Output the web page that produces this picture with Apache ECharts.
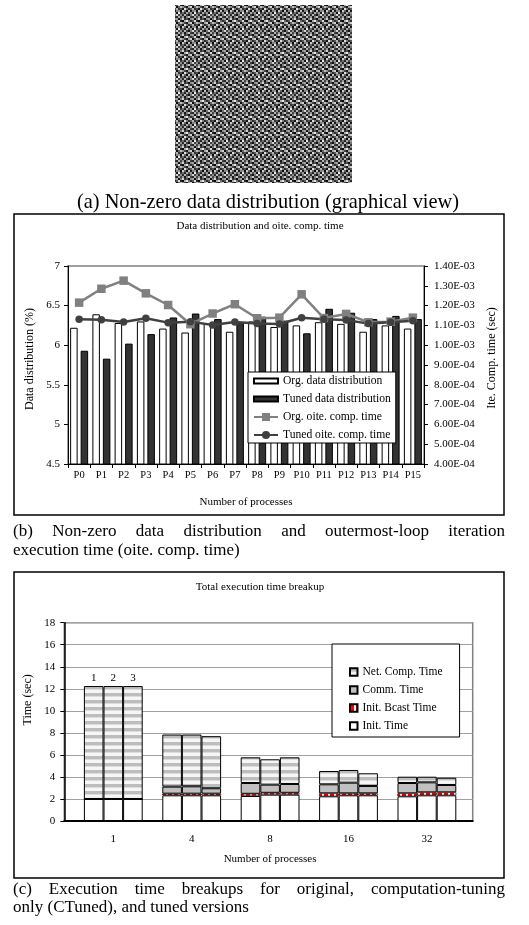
<!DOCTYPE html>
<html><head><meta charset="utf-8">
<script src="https://cdn.jsdelivr.net/npm/echarts@6/dist/echarts.min.js"></script>
<style>
html,body{margin:0;padding:0;background:#fff;}
#wrap{position:relative;width:529px;height:925px;overflow:hidden;}
#chart{position:absolute;left:0;top:0;width:529px;height:925px;}
.cap{position:absolute;font-family:'Liberation Serif','Times New Roman',serif;color:#000;white-space:nowrap;}
.just{white-space:normal;text-align:justify;text-align-last:justify;}
</style></head><body>
<div id="wrap">
<div id="chart"></div>
<div class="cap" style="left:0;width:536px;top:190px;font-size:20.4px;line-height:22px;text-align:center;">(a) Non-zero data distribution (graphical view)</div>
<div class="cap just" style="left:13px;width:492px;top:521px;font-size:17px;line-height:19px;">(b) Non-zero data distribution and outermost-loop iteration</div>
<div class="cap" style="left:13px;top:540px;font-size:17px;line-height:19px;">execution time (oite. comp. time)</div>
<div class="cap just" style="left:13px;width:492px;top:879.5px;font-size:17px;line-height:18.5px;">(c) Execution time breakups for original, computation-tuning</div>
<div class="cap" style="left:13px;top:898px;font-size:17px;line-height:18.5px;">only (CTuned), and tuned versions</div>
</div>
<script>
// ---------- data: chart (b) ----------
const procNames = ['P0','P1','P2','P3','P4','P5','P6','P7','P8','P9','P10','P11','P12','P13','P14','P15'];
const orgDist   = [6.22,6.39,6.28,6.30,6.21,6.16,6.27,6.17,6.30,6.23,6.25,6.29,6.27,6.17,6.25,6.21];
const tunedDist = [5.93,5.83,6.02,6.14,6.35,6.40,6.33,6.29,6.36,6.31,6.15,6.46,6.41,6.33,6.37,6.33];
const orgTime   = [1.215e-3,1.285e-3,1.326e-3,1.262e-3,1.203e-3,1.106e-3,1.160e-3,1.207e-3,1.136e-3,1.139e-3,1.257e-3,1.137e-3,1.158e-3,1.116e-3,1.119e-3,1.139e-3];
const tunedTime = [1.131e-3,1.129e-3,1.117e-3,1.136e-3,1.114e-3,1.119e-3,1.102e-3,1.117e-3,1.109e-3,1.107e-3,1.139e-3,1.131e-3,1.127e-3,1.109e-3,1.116e-3,1.124e-3];
const distTicks = {min:4.5, max:7, step:0.5};
const timeTicks = {min:4e-4, max:1.4e-3, step:1e-4};

// ---------- data: chart (c) ----------
const procCounts = ['1','4','8','16','32'];
const versionLabels = ['1','2','3'];
const initTime  = [[2.00,2.33,2.27,2.24,2.24],[2.00,2.33,2.39,2.33,2.33],[2.00,2.33,2.39,2.33,2.33]];
const bcastTime = [[0,0.15,0.20,0.27,0.27],[0,0.15,0.17,0.18,0.27],[0,0.15,0.17,0.18,0.27]];
const commTime  = [[0,0.64,0.98,0.82,0.94],[0,0.67,0.74,0.97,0.91],[0,0.49,0.80,0.67,0.67]];
const netTime   = [[10.25,4.73,2.33,1.21,0.57],[10.25,4.70,2.30,1.15,0.51],[10.25,4.73,2.42,1.15,0.66]];
const timeAxis  = {min:0, max:18, step:2};

// texture tile for the graphical view (a) - decorative grain only
const grainTile = [
 [ 40,180, 70,150, 25,130,200, 60],
 [160, 15,120,210, 50, 80, 10,140],
 [ 90,220, 35,  8,170,230,110, 45],
 [ 12,100,190,140, 70, 25,160,210],
 [180, 50, 80, 20,220,120, 40, 90],
 [130,150, 12,200,100,  8,190, 25],
 [ 20,230, 60,110, 35,170, 80,150],
 [210, 70,140, 40,180, 60, 20,120]];

const FONT = "'Liberation Serif','Times New Roman',serif";

function makePattern(w, h, draw){
  const c = document.createElement('canvas'); c.width = w; c.height = h;
  draw(c.getContext('2d'));
  return {image: c, repeat: 'repeat'};
}
const grainPattern = makePattern(16,16,ctx=>{
  grainTile.forEach((row,r)=>row.forEach((g,cI)=>{ctx.fillStyle='rgb('+g+','+g+','+g+')'; ctx.fillRect(cI*2,r*2,2,2);}));
});
const netPattern = makePattern(2,7,ctx=>{
  ctx.fillStyle='#f6f6f6'; ctx.fillRect(0,0,2,7);
  ctx.fillStyle='#bdbdbd'; ctx.fillRect(0,0,2,3);
  ctx.fillStyle='#dcdcdc'; ctx.fillRect(0,3,2,1);
});
const bcastPattern = makePattern(6,2,ctx=>{
  ctx.fillStyle='#ffffff'; ctx.fillRect(0,0,6,2);
  ctx.fillStyle='#ff0000'; ctx.fillRect(0,0,4,2);
});

function sci(v){
  const s = Number(v).toExponential(2).toUpperCase();
  const m = s.match(/^(-?[\d.]+)E([+-])(\d+)$/);
  if(!m) return s;
  return m[1]+'E'+m[2]+(m[3].length<2?'0'+m[3]:m[3]);
}

const barIcon = 'path://M0,0L0,0M0,2.5L24,2.5L24,7.5L0,7.5ZM24,10L24,10';
const axisBlack = {show:true, lineStyle:{color:'#000', width:1}};
const tickBlack = {show:true, length:4, lineStyle:{color:'#000', width:1}};
const lbl = (size, margin, extra) => Object.assign({fontSize:size, margin:margin, color:'#000', fontFamily:FONT}, extra||{});

const seriesC = [];
for(let k=0;k<3;k++){
  const common = {type:'bar', xAxisIndex:2, yAxisIndex:3, stack:'v'+k, barWidth:19.6, barGap:'0%', barCategoryGap:'25%'};
  seriesC.push(Object.assign({name:'Init. Time', data:initTime[k], itemStyle:{color:'#ffffff', borderColor:'#000', borderWidth:1}}, common));
  seriesC.push(Object.assign({name:'Init. Bcast Time', data:bcastTime[k], itemStyle:{color:bcastPattern, borderColor:'#000', borderWidth:0.6}}, common));
  seriesC.push(Object.assign({name:'Comm. Time', data:commTime[k], itemStyle:{color:'#c0c0c0', borderColor:'#000', borderWidth:1}}, common));
  seriesC.push(Object.assign({name:'Net. Comp. Time',
    data:netTime[k].map((v,i)=> i===0 ? {value:v, label:{show:true, position:'top', distance:2, formatter:versionLabels[k], fontSize:11, fontFamily:FONT, color:'#000'}} : v),
    itemStyle:{color:netPattern, borderColor:'#000', borderWidth:1}}, common));
}

const option = {
  animation:false,
  backgroundColor:'#fff',
  textStyle:{fontFamily:FONT, color:'#000'},
  title:[
    {text:'Data distribution and oite. comp. time', left:260, top:221, textAlign:'center', padding:0,
     textStyle:{fontSize:11, fontWeight:'normal', fontFamily:FONT, color:'#000'}},
    {text:'Total execution time breakup', left:260, top:582, textAlign:'center', padding:0,
     textStyle:{fontSize:11, fontWeight:'normal', fontFamily:FONT, color:'#000'}}
  ],
  graphic:[
    {type:'rect', shape:{x:175, y:5, width:177, height:178}, style:{fill:grainPattern}},
    {type:'rect', shape:{x:14, y:214, width:490, height:301}, style:{fill:'none', stroke:'#000', lineWidth:1.5}, z:100},
    {type:'rect', shape:{x:14, y:572, width:490, height:306}, style:{fill:'none', stroke:'#000', lineWidth:1.5}, z:100}
  ],
  legend:[
    {orient:'vertical', left:248, top:372, itemWidth:24, itemHeight:10, itemGap:6, padding:[3,5,2,5],
     borderColor:'#000', borderWidth:1, backgroundColor:'#fff', selectedMode:false,
     textStyle:{fontSize:11.6, fontFamily:FONT, color:'#000'},
     data:[{name:'Org. data distribution', icon:barIcon},{name:'Tuned data distribution', icon:barIcon},'Org. oite. comp. time','Tuned oite. comp. time']},
    {orient:'vertical', left:332, top:644, itemWidth:7.5, itemHeight:7.5, itemGap:6, padding:[22,17,5,17],
     borderColor:'#000', borderWidth:1, backgroundColor:'#fff', selectedMode:false, icon:'rect',
     textStyle:{fontSize:11.5, fontFamily:FONT, color:'#000'},
     data:['Net. Comp. Time','Comm. Time','Init. Bcast Time','Init. Time']}
  ],
  grid:[
    {left:68, top:266, width:356, height:198, show:true, borderColor:'#808080', borderWidth:1.5, backgroundColor:'rgba(0,0,0,0)'},
    {left:64.3, top:622.7, width:408.4, height:198.3, show:true, borderColor:'#808080', borderWidth:1.5, backgroundColor:'rgba(0,0,0,0)'},
    {left:74.1, top:622.7, width:392, height:198.3}
  ],
  xAxis:[
    {gridIndex:0, type:'category', data:procNames, axisLine:axisBlack, axisTick:tickBlack,
     axisLabel:lbl(10.5,6,{interval:0}), name:'Number of processes', nameLocation:'middle', nameGap:33,
     nameTextStyle:{fontSize:11, fontFamily:FONT, color:'#000'}},
    {gridIndex:1, type:'value', min:0, max:1, axisLine:{show:true, lineStyle:{color:'#000', width:2}},
     axisTick:{show:false}, axisLabel:{show:false}, splitLine:{show:false}},
    {gridIndex:2, type:'category', data:procCounts, axisLine:{show:false}, axisTick:{show:false},
     axisLabel:lbl(11,12.5), name:'Number of processes', nameLocation:'middle', nameGap:32.5,
     nameTextStyle:{fontSize:11, fontFamily:FONT, color:'#000'}}
  ],
  yAxis:[
    {gridIndex:0, type:'value', min:distTicks.min, max:distTicks.max, interval:distTicks.step,
     axisLine:axisBlack, axisTick:tickBlack, splitLine:{show:false}, axisLabel:lbl(11,8),
     name:'Data distribution (%)', nameLocation:'middle', nameRotate:90, nameGap:27,
     nameTextStyle:{fontSize:12, fontFamily:FONT, color:'#000', padding:[0,0,0,12]}},
    {gridIndex:0, type:'value', position:'right', min:timeTicks.min, max:timeTicks.max, interval:timeTicks.step,
     axisLine:axisBlack, axisTick:tickBlack, splitLine:{show:false}, axisLabel:lbl(11,10,{formatter:sci}),
     name:'Ite. Comp. time (sec)', nameLocation:'middle', nameRotate:90, nameGap:60,
     nameTextStyle:{fontSize:12, fontFamily:FONT, color:'#000', padding:[0,0,0,14]}},
    {gridIndex:1, type:'value', min:timeAxis.min, max:timeAxis.max, interval:timeAxis.step,
     axisLine:{show:true, lineStyle:{color:'#000', width:1.5}}, axisTick:tickBlack,
     splitLine:{show:true, lineStyle:{color:'#a0a0a0', width:1}}, axisLabel:lbl(11,9),
     name:'Time (sec)', nameLocation:'middle', nameRotate:90, nameGap:23,
     nameTextStyle:{fontSize:12, fontFamily:FONT, color:'#000', padding:[0,0,0,44]}},
    {gridIndex:2, type:'value', min:timeAxis.min, max:timeAxis.max, interval:timeAxis.step, show:false}
  ],
  series:[
    {type:'bar', name:'Org. data distribution', xAxisIndex:0, yAxisIndex:0, data:orgDist, barWidth:7.5, barGap:'40%',
     itemStyle:{color:'#ffffff', borderColor:'#000', borderWidth:1}},
    {type:'bar', name:'Tuned data distribution', xAxisIndex:0, yAxisIndex:0, data:tunedDist, barWidth:7.5, barGap:'40%',
     itemStyle:{color:'#333333', borderColor:'#000', borderWidth:1}},
    {type:'line', name:'Org. oite. comp. time', xAxisIndex:0, yAxisIndex:1, data:orgTime, symbol:'rect', symbolSize:8.5,
     lineStyle:{color:'#808080', width:2.5}, itemStyle:{color:'#808080'}, z:5},
    {type:'line', name:'Tuned oite. comp. time', xAxisIndex:0, yAxisIndex:1, data:tunedTime, symbol:'circle', symbolSize:7.5,
     lineStyle:{color:'#404040', width:2.5}, itemStyle:{color:'#404040'}, z:5}
  ].concat(seriesC)
};

const chart = echarts.init(document.getElementById('chart'), null, {renderer:'canvas', width:529, height:925});
chart.setOption(option);
</script>
</body></html>
